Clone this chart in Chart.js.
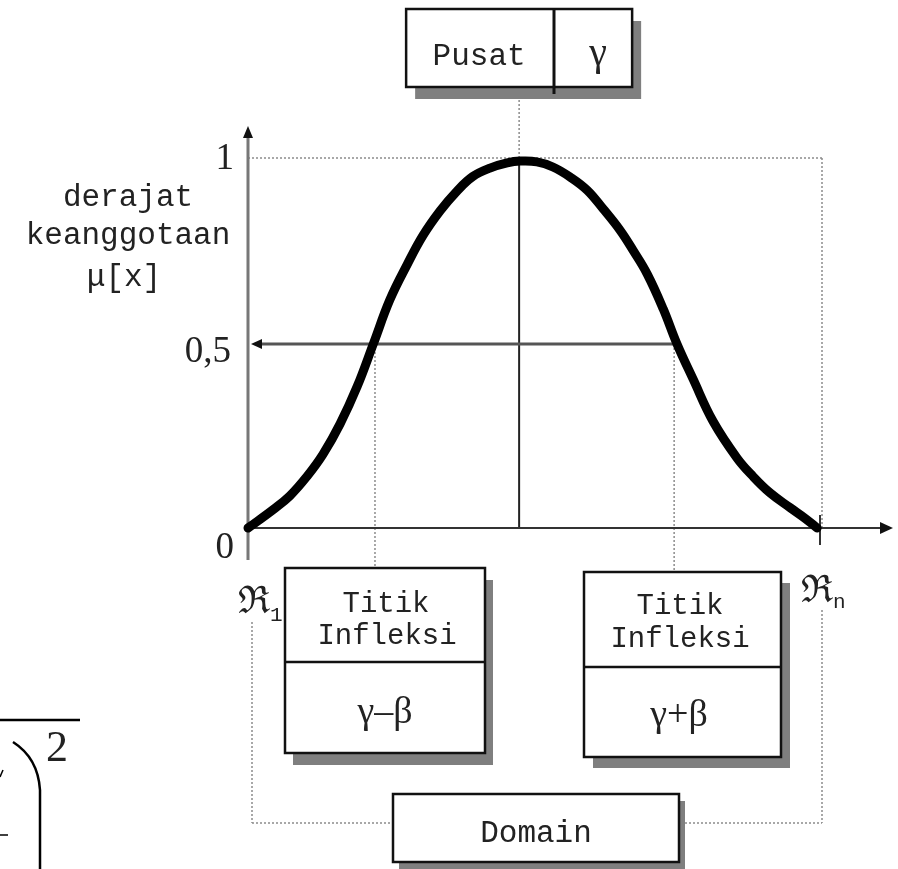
<!DOCTYPE html>
<html>
<head>
<meta charset="utf-8">
<script src="https://cdn.jsdelivr.net/npm/chart.js@4.4.1/dist/chart.umd.min.js"></script>
<style>
  html, body { margin: 0; padding: 0; background: #fff; }
  #wrap { width: 898px; height: 869px; }
</style>
</head>
<body>
<div id="wrap"><canvas id="chart" width="898" height="869"></canvas></div>
<script>
// membership curve, x runs from R1 (0) to Rn (100)
const curveX = [0, 4.4, 7.3, 10.3, 13.1, 16.1, 19.1, 21.9, 24.8, 27.8, 30.6, 33.6, 36.5, 39.3, 42.3, 45.3, 47.6,
  50.5, 53.3, 56.3, 59.3, 62.1, 65.0, 67.3, 69.8, 72.6, 75.0, 77.8, 81.3, 85.5, 88.3, 91.3, 94.8, 97.5, 99.5];
const curveY = [0, 0.05, 0.087, 0.14, 0.2, 0.283, 0.385, 0.5, 0.62, 0.715, 0.795, 0.862, 0.915, 0.955, 0.978, 0.992, 0.997,
  0.995, 0.981, 0.954, 0.918, 0.867, 0.81, 0.755, 0.69, 0.595, 0.5, 0.405, 0.29, 0.19, 0.14, 0.095, 0.055, 0.025, 0];

const yTickValues = [0, 0.5, 1];
const yTickLabels = ['0', '0,5', '1'];

const centerX = 47.4;            // gamma
const inflectionX = [22.2, 74.5]; // gamma - beta, gamma + beta
const domainX = [0, 100];        // R1, Rn
const halfY = 0.5;

const MONO = '"Liberation Mono", "Courier New", monospace';
const SERIF = '"Liberation Serif", "Times New Roman", serif';

function line(ctx, x1, y1, x2, y2, color, width, dash) {
  ctx.save();
  ctx.strokeStyle = color;
  ctx.lineWidth = width;
  ctx.setLineDash(dash || []);
  ctx.beginPath();
  ctx.moveTo(x1, y1);
  ctx.lineTo(x2, y2);
  ctx.stroke();
  ctx.restore();
}

function arrowHead(ctx, x, y, dir, len, half) {
  ctx.save();
  ctx.fillStyle = '#111';
  ctx.beginPath();
  if (dir === 'up') { ctx.moveTo(x, y); ctx.lineTo(x - half, y + len); ctx.lineTo(x + half, y + len); }
  if (dir === 'right') { ctx.moveTo(x, y); ctx.lineTo(x - len, y - half); ctx.lineTo(x - len, y + half); }
  if (dir === 'left') { ctx.moveTo(x, y); ctx.lineTo(x + len, y - half); ctx.lineTo(x + len, y + half); }
  ctx.closePath();
  ctx.fill();
  ctx.restore();
}

function box(ctx, x, y, w, h, sx, sy) {
  ctx.save();
  ctx.fillStyle = '#7f7f7f';
  ctx.fillRect(x + sx, y + sy, w, h);
  ctx.fillStyle = '#fff';
  ctx.fillRect(x, y, w, h);
  ctx.strokeStyle = '#111';
  ctx.lineWidth = 2.5;
  ctx.strokeRect(x, y, w, h);
  ctx.restore();
}

function text(ctx, s, x, y, font, align, base) {
  ctx.save();
  ctx.fillStyle = '#222';
  ctx.font = font;
  ctx.textAlign = align || 'center';
  ctx.textBaseline = base || 'middle';
  ctx.fillText(s, x, y);
  ctx.restore();
}

const dotted = '#8c8c8c';

const diagramPlugin = {
  id: 'diagram',
  beforeDatasetsDraw(chart) {
    const ctx = chart.ctx;
    const xs = chart.scales.x, ys = chart.scales.y;
    const px = v => xs.getPixelForValue(v);
    const py = v => ys.getPixelForValue(v);
    const d = [2, 2];

    // dotted frame
    line(ctx, px(domainX[0]), py(1) - 2, px(domainX[1]) + 2, py(1) - 2, dotted, 1.5, d);
    line(ctx, px(domainX[1]) + 2, py(1) - 2, px(domainX[1]) + 2, py(0), dotted, 1.5, d);
    line(ctx, px(centerX), 100, px(centerX), py(1), dotted, 1.5, d);
    line(ctx, px(inflectionX[0]), py(halfY), px(inflectionX[0]), 568, dotted, 1.5, d);
    line(ctx, px(inflectionX[1]), py(halfY), px(inflectionX[1]), 572, dotted, 1.5, d);
    // domain bracket
    line(ctx, px(domainX[0]) + 4, 622, px(domainX[0]) + 4, 823, dotted, 1.5, d);
    line(ctx, px(domainX[0]) + 4, 823, 393, 823, dotted, 1.5, d);
    line(ctx, px(domainX[1]) + 2, 610, px(domainX[1]) + 2, 823, dotted, 1.5, d);
    line(ctx, 685, 823, px(domainX[1]) + 2, 823, dotted, 1.5, d);

    // center line
    line(ctx, px(centerX), py(1), px(centerX), py(0), '#222', 2);
    // half-membership arrow
    line(ctx, px(inflectionX[1]) + 2, py(halfY), px(0) + 10, py(halfY), '#555', 3);
    arrowHead(ctx, px(0) + 3, py(halfY), 'left', 11, 5);

    // axes
    line(ctx, px(0), 135, px(0), 560, '#777', 3);
    arrowHead(ctx, px(0), 126, 'up', 12, 5);
    line(ctx, px(0), py(0), 882, py(0), '#333', 2);
    arrowHead(ctx, 893, py(0), 'right', 13, 6);
    line(ctx, px(domainX[1]), py(0) - 13, px(domainX[1]), py(0) + 17, '#333', 2);
  },
  afterDatasetsDraw(chart) {
    const ctx = chart.ctx;
    const xs = chart.scales.x, ys = chart.scales.y;
    const px = v => xs.getPixelForValue(v);
    const py = v => ys.getPixelForValue(v);
    const axisX = px(0);

    // y tick labels
    const f = '37px ' + SERIF;
    yTickValues.forEach((v, i) => {
      if (v === 0) text(ctx, yTickLabels[i], axisX - 14, py(v) + 2, f, 'right', 'top');
      else if (v === 1) text(ctx, yTickLabels[i], axisX - 14, py(v) - 1, f, 'right', 'middle');
      else text(ctx, yTickLabels[i], axisX - 17, py(v) + 8, f, 'right', 'middle');
    });

    // y axis title
    const mf = '31px ' + MONO;
    text(ctx, 'derajat', 128, 198, mf);
    text(ctx, 'keanggotaan', 128, 236, mf);
    text(ctx, 'μ[x]', 124, 278, mf);

    // R1 and Rn
    const rf = '38px "DejaVu Serif", serif';
    text(ctx, 'ℜ', 238, 613, rf, 'left', 'alphabetic');
    text(ctx, '1', 270, 621, '21px ' + MONO, 'left', 'alphabetic');
    text(ctx, 'ℜ', 801, 602, rf, 'left', 'alphabetic');
    text(ctx, 'n', 833, 608, '21px ' + MONO, 'left', 'alphabetic');

    // Pusat box
    const cx = px(centerX);
    box(ctx, cx - 113, 9, 226, 78, 9, 12);
    line(ctx, 554, 9, 554, 94, '#111', 3);
    text(ctx, 'Pusat', cx - 40, 57, mf);
    text(ctx, 'γ', 598, 54, '40px ' + SERIF);

    // inflection boxes
    const tf = '29px ' + MONO;
    const gf = '38px ' + SERIF;
    box(ctx, 285, 568, 200, 185, 8, 12);
    line(ctx, 285, 662, 485, 662, '#111', 2.5);
    text(ctx, 'Titik', 386, 604, tf);
    text(ctx, 'Infleksi', 387, 636, tf);
    text(ctx, 'γ–β', 385, 713, gf);

    box(ctx, 584, 572, 197, 185, 9, 11);
    line(ctx, 584, 667, 781, 667, '#111', 2.5);
    text(ctx, 'Titik', 680, 606, tf);
    text(ctx, 'Infleksi', 680, 639, tf);
    text(ctx, 'γ+β', 679, 716, gf);

    // domain box
    box(ctx, 393, 794, 286, 68, 6, 7);
    text(ctx, 'Domain', 536, 834, mf);

    // cut-off formula fragment at bottom left
    line(ctx, 0, 720, 80, 720, '#000', 2.5);
    ctx.save();
    ctx.strokeStyle = '#000';
    ctx.lineWidth = 2.5;
    ctx.beginPath();
    ctx.moveTo(13, 742);
    ctx.quadraticCurveTo(38, 758, 40, 790);
    ctx.lineTo(40, 869);
    ctx.stroke();
    ctx.restore();
    text(ctx, '2', 46, 761, '44px ' + SERIF, 'left', 'alphabetic');
    line(ctx, 0, 777, 3, 770, '#000', 1.5);
    line(ctx, 0, 835, 8, 835, '#000', 1.5);
  }
};

new Chart(document.getElementById('chart'), {
  type: 'scatter',
  data: {
    datasets: [{
      data: curveX.map((x, i) => ({ x: x, y: curveY[i] })),
      showLine: true,
      borderColor: '#000',
      borderWidth: 9,
      borderCapStyle: 'round',
      borderJoinStyle: 'round',
      tension: 0.4,
      pointRadius: 0,
      clip: false
    }]
  },
  options: {
    responsive: false,
    animation: false,
    devicePixelRatio: 1,
    layout: { padding: { left: 248, right: 78, top: 160, bottom: 341 } },
    plugins: { legend: { display: false }, tooltip: { enabled: false } },
    scales: {
      x: { type: 'linear', min: 0, max: 100, display: false },
      y: { type: 'linear', min: 0, max: 1, display: false }
    }
  },
  plugins: [diagramPlugin]
});
</script>
</body>
</html>
